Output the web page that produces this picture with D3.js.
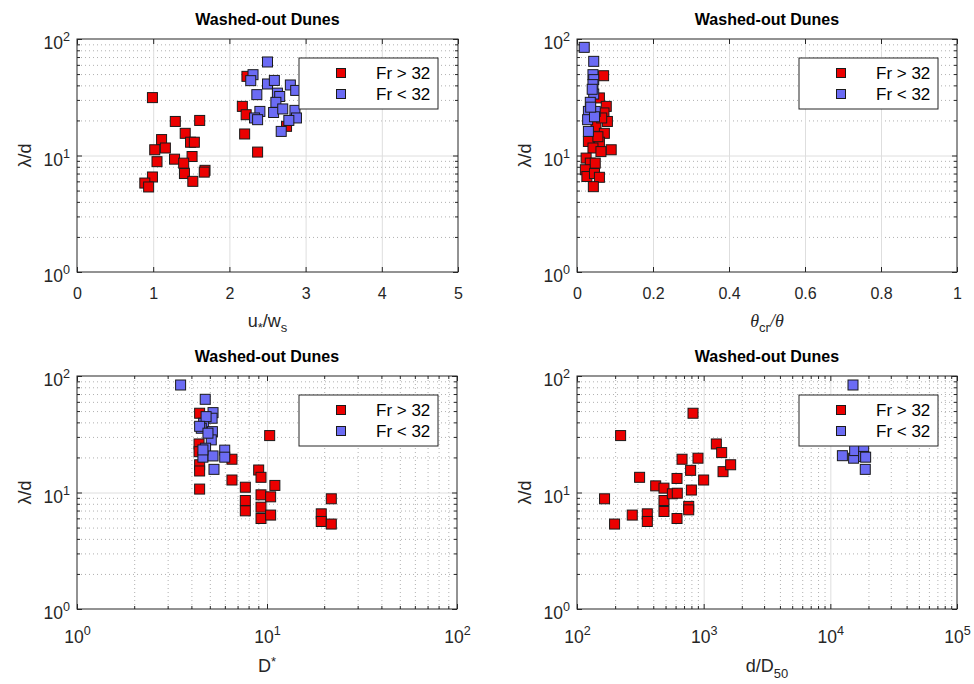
<!DOCTYPE html>
<html>
<head>
<meta charset="utf-8">
<script src="https://cdn.jsdelivr.net/npm/d3@7"></script>
<style>
  body { margin: 0; background: #fff; }
  svg { font-family: "Liberation Sans", Arial, Helvetica, sans-serif; }
</style>
</head>
<body>
<svg id="chart" width="974" height="684"></svg>
<script>
// ---- Data: wavelength / depth (λ/d) against four dimensionless parameters ----
const seriesNames = ["Fr > 32", "Fr < 32"];
const panelTitle = "Washed-out Dunes";

// u*/ws
const p1RedX  = [0.99,1.29,1.61,1.11,1.42,1.49,1.54,1.02,1.16,1.51,1.28,1.05,1.40,1.41,1.68,1.67,0.99,0.89,0.94,1.52,2.23,2.17,2.22,2.20,2.37,2.75];
const p1RedY  = [31.4,19.6,20.0,13.7,15.5,13.0,13.0,11.2,11.6,9.8,9.3,8.85,8.6,7.0,7.46,7.2,6.54,5.8,5.37,6.0,47.8,26.4,22.4,15.3,10.7,17.8];
const p1BlueX = [2.50,2.31,2.28,2.50,2.59,2.80,2.87,2.36,2.63,2.66,2.61,2.40,2.58,2.70,2.86,2.88,2.78,2.33,2.37,2.68];
const p1BlueY = [63.5,49.4,43.9,41.1,44.1,40.3,36.2,33.3,34.3,32.1,28.6,23.9,23.4,25.1,24.4,21.0,20.0,21.0,20.3,16.1];

// θcr/θ
const p2RedX  = [0.070,0.059,0.077,0.071,0.080,0.050,0.072,0.030,0.059,0.090,0.042,0.063,0.024,0.035,0.022,0.048,0.026,0.046,0.059,0.043,0.055,0.065];
const p2RedY  = [48.4,31.2,26.4,23.2,19.6,17.8,15.5,13.2,13.0,11.2,11.6,10.8,9.5,8.6,7.55,8.6,6.6,7.0,6.5,5.4,14.5,21.0];
const p2BlueX = [0.019,0.044,0.042,0.044,0.042,0.044,0.035,0.030,0.028,0.048,0.030,0.046,0.040,0.036];
const p2BlueY = [84.8,64.3,49.4,44.8,40.6,33.7,28.6,23.9,20.3,23.9,16.1,21.5,37.0,26.0];

// D*
const p3RedX  = [4.42,10.33,4.39,4.39,4.42,4.42,4.42,6.54,6.54,7.69,7.69,7.69,9.04,9.3,9.3,9.3,9.3,10.45,10.45,11.0,19.3,19.3,21.8,21.8];
const p3RedY  = [47.9,30.8,26.1,22.4,17.3,15.3,10.7,19.3,12.8,11.1,8.54,6.96,15.6,13.5,9.55,7.48,5.98,9.18,6.4,11.5,6.56,5.64,8.83,5.36];
const p3BlueX = [3.51,4.73,5.2,5.14,4.64,4.51,4.78,5.16,5.09,4.75,4.6,5.2,5.99,5.99,5.26,4.42,4.89,4.6];
const p3BlueY = [83.7,63.1,48.5,43.4,39.3,35.6,44.8,33.3,28.3,24.0,20.1,20.6,23.1,20.1,15.8,37.0,32.3,23.2];

// d/D50
const p4RedX  = [165,198,221,273,312,359,359,418,486,486,486,566,616,619,616,675,789,800,824,762,762,902,1000,1259,1387,1422,1633];
const p4RedY  = [8.83,5.36,30.8,6.4,13.5,6.56,5.64,11.4,10.9,8.54,6.87,9.75,13.2,9.86,5.98,19.3,15.5,10.5,47.9,7.6,7.1,19.7,12.8,26.1,22.0,15.1,17.3];
const p4BlueX = [15100,12450,15270,15560,18330,18330,19000,18870];
const p4BlueY = [83.7,20.7,19.7,22.9,23.7,20.4,20.1,15.8];

// Tick values
const yTicks = [1, 10, 100];
const p1XTicks = [0, 1, 2, 3, 4, 5];
const p2XTicks = [0, 0.2, 0.4, 0.6, 0.8, 1];
const p3XTicks = [1, 10, 100];
const p4XTicks = [100, 1000, 10000, 100000];

// ---- Styling ----
const colors = { red: "#ec0000", blue: "#6b6bf4" };
const axisColor = "#262626";
const markerSize = 10;

const svg = d3.select("#chart");

const panels = [
  { left: 77,  top: 39,  w: 381, h: 233, log: false, domain: [0, 5],      ticks: p1XTicks,
    red: [p1RedX, p1RedY], blue: [p1BlueX, p1BlueY], label: "u" },
  { left: 577, top: 39,  w: 380, h: 233, log: false, domain: [0, 1],      ticks: p2XTicks,
    red: [p2RedX, p2RedY], blue: [p2BlueX, p2BlueY], label: "theta" },
  { left: 77,  top: 376, w: 380, h: 233, log: true,  domain: [1, 100],    ticks: p3XTicks,
    red: [p3RedX, p3RedY], blue: [p3BlueX, p3BlueY], label: "D" },
  { left: 577, top: 376, w: 380, h: 233, log: true,  domain: [100, 1e5],  ticks: p4XTicks,
    red: [p4RedX, p4RedY], blue: [p4BlueX, p4BlueY], label: "dD" }
];

// minor values (2..9 per decade) inside a log domain
function minorLog(domain) {
  const out = [];
  for (let e = Math.round(Math.log10(domain[0])); e < Math.round(Math.log10(domain[1])); e++) {
    for (let m = 2; m <= 9; m++) out.push(m * Math.pow(10, e));
  }
  return out;
}

// "10" with a superscript exponent
function powerLabel(sel, fs) {
  sel.each(function(d) {
    const t = d3.select(this);
    t.text(null);
    t.append("tspan").text("10");
    t.append("tspan").attr("dy", -fs * 0.45).attr("font-size", fs * 0.72)
      .text(Math.round(Math.log10(d)));
  });
}

function drawPanel(p) {
  const g = svg.append("g");
  const x = (p.log ? d3.scaleLog() : d3.scaleLinear()).domain(p.domain).range([p.left, p.left + p.w]);
  const y = d3.scaleLog().domain([1, 100]).range([p.top + p.h, p.top]);
  const bottom = p.top + p.h, right = p.left + p.w;

  // grid: minor dotted
  const yMinor = minorLog([1, 100]);
  g.append("g").attr("transform", `translate(${p.left},0)`)
    .call(d3.axisLeft(y).tickValues(yMinor).tickSize(-p.w).tickFormat(""))
    .call(a => a.select(".domain").remove())
    .call(a => a.selectAll("line").attr("stroke", "#b0b0b0").attr("stroke-dasharray", "1,3").attr("stroke-width", 1));
  if (p.log) {
    g.append("g").attr("transform", `translate(0,${bottom})`)
      .call(d3.axisBottom(x).tickValues(minorLog(p.domain)).tickSize(-p.h).tickFormat(""))
      .call(a => a.select(".domain").remove())
      .call(a => a.selectAll("line").attr("stroke", "#b0b0b0").attr("stroke-dasharray", "1,3").attr("stroke-width", 1));
  }
  // grid: major solid
  g.append("g").attr("transform", `translate(${p.left},0)`)
    .call(d3.axisLeft(y).tickValues([10]).tickSize(-p.w).tickFormat(""))
    .call(a => a.select(".domain").remove())
    .call(a => a.selectAll("line").attr("stroke", "#dedede"));
  g.append("g").attr("transform", `translate(0,${bottom})`)
    .call(d3.axisBottom(x).tickValues(p.ticks.slice(1, -1)).tickSize(-p.h).tickFormat(""))
    .call(a => a.select(".domain").remove())
    .call(a => a.selectAll("line").attr("stroke", "#dedede"));

  // markers: red series then blue series
  [["red", p.red], ["blue", p.blue]].forEach(([c, [xs, ys]]) => {
    g.append("g").selectAll("rect").data(xs.map((v, i) => [v, ys[i]])).join("rect")
      .attr("x", d => x(d[0]) - markerSize / 2)
      .attr("y", d => y(d[1]) - markerSize / 2)
      .attr("width", markerSize).attr("height", markerSize)
      .attr("fill", colors[c]).attr("stroke", "#1a1a1a").attr("stroke-width", 1);
  });

  // box
  g.append("rect").attr("x", p.left).attr("y", p.top).attr("width", p.w).attr("height", p.h)
    .attr("fill", "none").attr("stroke", axisColor).attr("stroke-width", 1);

  // tick marks (inward, all four sides)
  const tickStyle = a => { a.select(".domain").remove(); a.selectAll("line").attr("stroke", axisColor); };
  const fsTick = 16, fsPow = 17.5;
  // bottom with labels
  const xb = g.append("g").attr("transform", `translate(0,${bottom})`)
    .call(d3.axisBottom(x).tickValues(p.ticks).tickSize(-5).tickPadding(0)
      .tickFormat(p.log ? (() => "") : (d => d3.format("~g")(d))))
    .call(tickStyle);
  xb.selectAll("text").attr("fill", axisColor).attr("font-family", null)
    .attr("font-size", p.log ? fsPow : fsTick).attr("dy", null)
    .attr("y", p.log ? 34 : 27);
  if (p.log) powerLabel(xb.selectAll("text"), fsPow);
  g.append("g").attr("transform", `translate(0,${p.top})`)
    .call(d3.axisTop(x).tickValues(p.ticks).tickSize(-5).tickFormat("")).call(tickStyle);
  if (p.log) {
    g.append("g").attr("transform", `translate(0,${bottom})`)
      .call(d3.axisBottom(x).tickValues(minorLog(p.domain)).tickSize(-3).tickFormat("")).call(tickStyle);
    g.append("g").attr("transform", `translate(0,${p.top})`)
      .call(d3.axisTop(x).tickValues(minorLog(p.domain)).tickSize(-3).tickFormat("")).call(tickStyle);
  }
  // left with labels
  const yl = g.append("g").attr("transform", `translate(${p.left},0)`)
    .call(d3.axisLeft(y).tickValues(yTicks).tickSize(-5).tickPadding(7).tickFormat(() => ""))
    .call(tickStyle);
  yl.selectAll("text").attr("fill", axisColor).attr("font-family", null)
    .attr("font-size", fsPow).attr("dy", "0.55em");
  powerLabel(yl.selectAll("text"), fsPow);
  g.append("g").attr("transform", `translate(${right},0)`)
    .call(d3.axisRight(y).tickValues(yTicks).tickSize(-5).tickFormat("")).call(tickStyle);
  g.append("g").attr("transform", `translate(${p.left},0)`)
    .call(d3.axisLeft(y).tickValues(yMinor).tickSize(-3).tickFormat("")).call(tickStyle);
  g.append("g").attr("transform", `translate(${right},0)`)
    .call(d3.axisRight(y).tickValues(yMinor).tickSize(-3).tickFormat("")).call(tickStyle);

  // title
  g.append("text").attr("x", p.left + p.w / 2).attr("y", p.top - 14)
    .attr("text-anchor", "middle").attr("font-weight", "bold").attr("font-size", 16)
    .attr("fill", "#000").text(panelTitle);

  // y label
  g.append("text").attr("transform", `translate(${p.left - 46},${p.top + p.h / 2}) rotate(-90)`)
    .attr("text-anchor", "middle").attr("font-size", 18).attr("fill", axisColor).text("λ/d");

  // x label
  const xl = g.append("text").attr("x", p.left + p.w / 2).attr("y", bottom + (p.log ? 63 : 55))
    .attr("text-anchor", "middle").attr("font-size", 18).attr("fill", axisColor);
  if (p.label === "u") {
    xl.append("tspan").text("u");
    xl.append("tspan").attr("dy", 5).attr("font-size", 13).text("*");
    xl.append("tspan").attr("dy", -5).text("/w");
    xl.append("tspan").attr("dy", 5).attr("font-size", 13).text("s");
  } else if (p.label === "theta") {
    xl.append("tspan").attr("font-family", "Liberation Serif, Times New Roman, serif").attr("font-style", "italic").text("θ");
    xl.append("tspan").attr("dy", 5).attr("font-size", 13).text("cr");
    xl.append("tspan").attr("dy", -5).attr("font-family", "Liberation Serif, Times New Roman, serif").attr("font-style", "italic").text("/θ");
  } else if (p.label === "D") {
    xl.append("tspan").text("D");
    xl.append("tspan").attr("dy", -6).attr("font-size", 13).text("*");
  } else {
    xl.append("tspan").text("d/D");
    xl.append("tspan").attr("dy", 6).attr("font-size", 13).text("50");
  }

  // legend
  const lx = p.left + 222, ly = p.top + 19;
  const lg = g.append("g");
  lg.append("rect").attr("x", lx).attr("y", ly).attr("width", 139).attr("height", 51)
    .attr("fill", "#fff").attr("stroke", axisColor).attr("stroke-width", 1);
  ["red", "blue"].forEach((c, i) => {
    const cy = ly + 15 + i * 21;
    lg.append("rect").attr("x", lx + 42 - 4.5).attr("y", cy - 4.5).attr("width", 9).attr("height", 9)
      .attr("fill", colors[c]).attr("stroke", "#1a1a1a");
    lg.append("text").attr("x", lx + 77).attr("y", cy + 6).attr("font-size", 17)
      .attr("fill", "#000").text(seriesNames[i]);
  });
}

panels.forEach(drawPanel);
</script>
</body>
</html>
